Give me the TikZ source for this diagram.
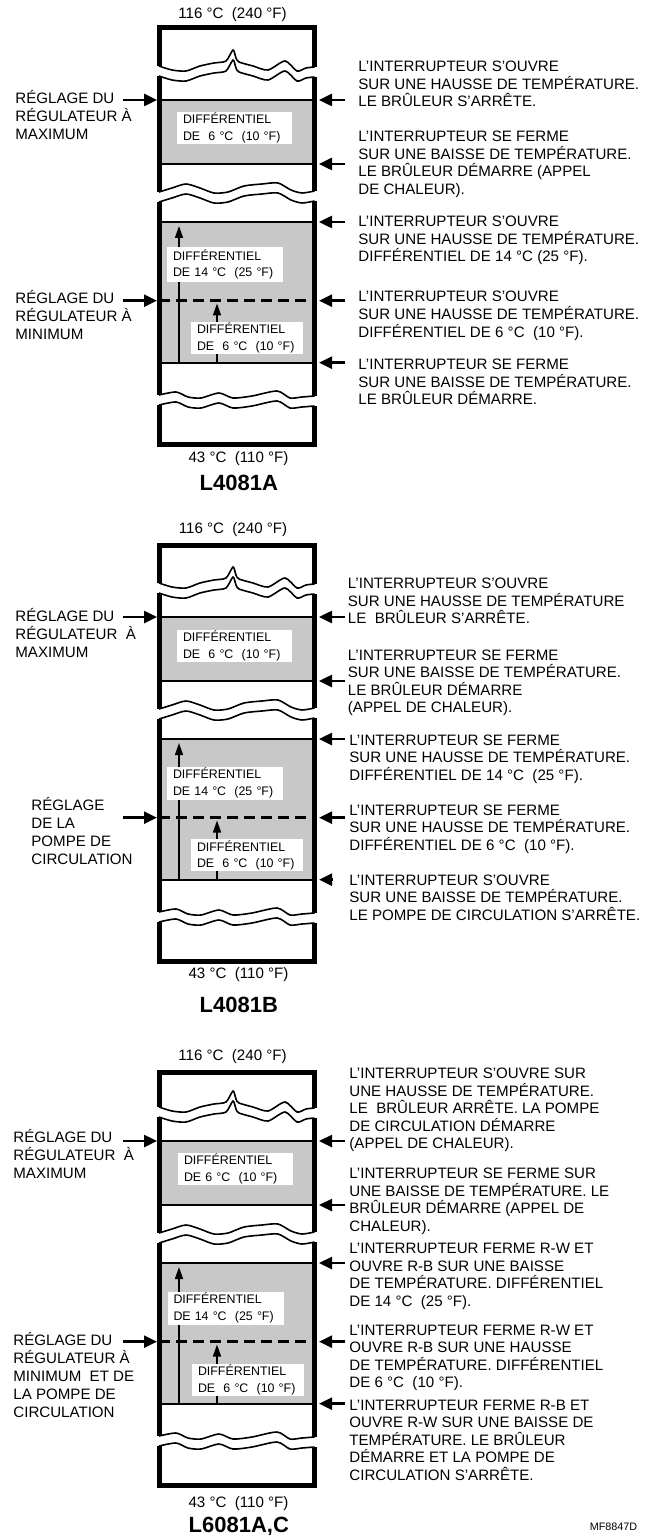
\documentclass[tikz,border=0pt]{standalone}
\usepackage{fontspec}
\setmainfont{Liberation Sans}
\usetikzlibrary{arrows.meta}

\definecolor{bandgray}{RGB}{200,200,200}

\begin{document}
\begin{tikzpicture}[x=0.5pt,y=-0.5pt,
    frame/.style={line width=2.5pt},
    brk/.style={line width=0.8pt},
    level/.style={line width=1pt},
    dashlevel/.style={line width=1.3pt,dash pattern=on 5.5pt off 3pt},
    setarrow/.style={line width=1.25pt,-{Triangle[length=6.5pt,width=6pt]}},
    diffarrow/.style={line width=0.8pt,-{Triangle[length=6pt,width=4pt]}},
    diffbox/.style={fill=white,inner xsep=3pt,inner ysep=0pt,align=left,font=\fontsize{6.2}{8.25}\selectfont},
    note/.style={anchor=base west,inner sep=0pt,align=left,font=\fontsize{7.55}{8.75}\selectfont},
    setting/.style={anchor=base west,inner sep=0pt,align=left,font=\fontsize{7.55}{9}\selectfont},
    temp/.style={inner sep=0pt,font=\fontsize{7.55}{9}\selectfont},
    model/.style={inner sep=0pt,font=\fontsize{11}{13}\selectfont\bfseries}]
  \useasboundingbox (0,0) rectangle (662,1535);

  % L4081A
  \begin{scope}
    \fill[bandgray] (159,100) rectangle (314.5,164);
    \fill[bandgray] (159,222) rectangle (314.5,362.7);
    \draw[level] (159,100) -- (314.5,100);
    \draw[level] (159,164) -- (314.5,164);
    \draw[level] (159,222) -- (314.5,222);
    \draw[level] (159,362.7) -- (314.5,362.7);
    \draw[dashlevel] (159,300.7) -- (314.5,300.7);
    \draw[diffarrow] (179,362.7) -- (179,226);
    \draw[diffarrow] (217,362.7) -- (217,303.5);
    \node[diffbox,text width=51.5pt,minimum height=16pt] (p1d6a) at (234.5,128) {DIFFÉRENTIEL\\DE~ 6 °C~ (10 °F)};
    \node[diffbox,text width=52pt,minimum height=17.5pt] (p1d14) at (225,264.5) {DIFFÉRENTIEL\\DE 14 °C~ (25 °F)};
    \node[diffbox,text width=50pt,minimum height=16pt] (p1d6b) at (247,338) {DIFFÉRENTIEL\\DE~ 6 °C~ (10 °F)};
    \draw[frame] (159,66) |- (314.5,28) -- (314.5,67);
    \draw[frame] (159,76) -- (159,192);
    \draw[frame] (314.5,77) -- (314.5,191);
    \draw[frame] (159,202) -- (159,395);
    \draw[frame] (314.5,201) -- (314.5,396);
    \draw[frame] (159,405) |- (314.5,444) -- (314.5,406);
    \draw[brk] plot[smooth,tension=.45] coordinates {(159,66) (172,70) (186,71) (200,66) (214,63) (226,61) (233,50) (236,58) (239,62) (253,66) (268,70) (285,61) (297,71) (306,68) (314.5,67)};
    \draw[brk,shift={(0,10)}] plot[smooth,tension=.45] coordinates {(159,66) (172,70) (186,71) (200,66) (214,63) (226,61) (233,50) (236,58) (239,62) (253,66) (268,70) (285,61) (297,71) (306,68) (314.5,67)};
    \draw[brk] plot[smooth,tension=.45] coordinates {(159,192) (172,188) (186,184) (200,188) (214,193) (228,192) (244,186) (262,184) (278,183) (291,190) (302,193) (314.5,191)};
    \draw[brk,shift={(0,10)}] plot[smooth,tension=.45] coordinates {(159,192) (172,188) (186,184) (200,188) (214,193) (228,192) (244,186) (262,184) (278,183) (291,190) (302,193) (314.5,191)};
    \draw[brk] plot[smooth,tension=.45] coordinates {(159,395) (176,392) (188,397) (201,398) (219,393) (233,398) (252,396) (277,391) (290,398) (302,397) (314.5,396)};
    \draw[brk,shift={(0,10)}] plot[smooth,tension=.45] coordinates {(159,395) (176,392) (188,397) (201,398) (219,393) (233,398) (252,396) (277,391) (290,398) (302,397) (314.5,396)};
    \node[temp] (p1top) at (232.5,15) {116 °C~ (240 °F)};
    \node[temp] (p1bot) at (238.5,459) {43 °C~ (110 °F)};
    \node[model] (p1name) at (238.8,483) {L4081A};
    \node[setting] (p1max) at (15,139.4) {RÉGLAGE DU\\RÉGULATEUR À\\MAXIMUM};
    \node[setting] (p1min) at (15,339.7) {RÉGLAGE DU\\RÉGULATEUR À\\MINIMUM};
    \coordinate (p1maxS) at (123,100); \coordinate (p1maxT) at (157,100);
    \coordinate (p1minS) at (123,300.7); \coordinate (p1minT) at (157,300.7);
    \draw[setarrow] (p1maxS) -- (p1maxT);
    \draw[setarrow] (p1minS) -- (p1minT);
    \node[note] (p1r1) at (358,107) {L'INTERRUPTEUR S'OUVRE\\SUR UNE HAUSSE DE TEMPÉRATURE.\\LE BRÛLEUR S'ARRÊTE.};
    \node[note] (p1r2) at (358,194.5) {L'INTERRUPTEUR SE FERME\\SUR UNE BAISSE DE TEMPÉRATURE.\\LE BRÛLEUR DÉMARRE (APPEL\\DE CHALEUR).};
    \node[note] (p1r3) at (358,262) {L'INTERRUPTEUR S'OUVRE\\SUR UNE HAUSSE DE TEMPÉRATURE.\\DIFFÉRENTIEL DE 14 °C (25 °F).};
    \node[note] (p1r4) at (358,337) {L'INTERRUPTEUR S'OUVRE\\SUR UNE HAUSSE DE TEMPÉRATURE.\\DIFFÉRENTIEL DE 6 °C~ (10 °F).};
    \node[note] (p1r5) at (358,404.5) {L'INTERRUPTEUR SE FERME\\SUR UNE BAISSE DE TEMPÉRATURE.\\LE BRÛLEUR DÉMARRE.};
    \coordinate (p1e1) at (345,100); \coordinate (p1t1) at (319,100);
    \coordinate (p1e2) at (345,164); \coordinate (p1t2) at (319,164);
    \coordinate (p1e3) at (345,222); \coordinate (p1t3) at (319,222);
    \coordinate (p1e4) at (345,300.7); \coordinate (p1t4) at (319,300.7);
    \coordinate (p1e5) at (345,362.7); \coordinate (p1t5) at (319,362.7);
    \draw[setarrow] (p1e1) -- (p1t1);
    \draw[setarrow] (p1e2) -- (p1t2);
    \draw[setarrow] (p1e3) -- (p1t3);
    \draw[setarrow] (p1e4) -- (p1t4);
    \draw[setarrow] (p1e5) -- (p1t5);
  \end{scope}

  % L4081B
  \begin{scope}[shift={(0,517)}]
    \fill[bandgray] (159,100) rectangle (314.5,164);
    \fill[bandgray] (159,222) rectangle (314.5,362.7);
    \draw[level] (159,100) -- (314.5,100);
    \draw[level] (159,164) -- (314.5,164);
    \draw[level] (159,222) -- (314.5,222);
    \draw[level] (159,362.7) -- (314.5,362.7);
    \draw[dashlevel] (159,300.7) -- (314.5,300.7);
    \draw[diffarrow] (179,362.7) -- (179,226);
    \draw[diffarrow] (217,362.7) -- (217,303.5);
    \node[diffbox,text width=51.5pt,minimum height=16pt] (p2d6a) at (234.5,129) {DIFFÉRENTIEL\\DE~ 6 °C~ (10 °F)};
    \node[diffbox,text width=52pt,minimum height=16.5pt] (p2d14) at (225,266) {DIFFÉRENTIEL\\DE 14 °C~ (25 °F)};
    \node[diffbox,text width=50pt,minimum height=16pt] (p2d6b) at (247,338.3) {DIFFÉRENTIEL\\DE~ 6 °C~ (10 °F)};
    \draw[frame] (159,66) |- (314.5,28) -- (314.5,67);
    \draw[frame] (159,76) -- (159,192);
    \draw[frame] (314.5,77) -- (314.5,191);
    \draw[frame] (159,202) -- (159,395);
    \draw[frame] (314.5,201) -- (314.5,396);
    \draw[frame] (159,405) |- (314.5,444) -- (314.5,406);
    \draw[brk] plot[smooth,tension=.45] coordinates {(159,66) (172,70) (186,71) (200,66) (214,63) (226,61) (233,50) (236,58) (239,62) (253,66) (268,70) (285,61) (297,71) (306,68) (314.5,67)};
    \draw[brk,shift={(0,10)}] plot[smooth,tension=.45] coordinates {(159,66) (172,70) (186,71) (200,66) (214,63) (226,61) (233,50) (236,58) (239,62) (253,66) (268,70) (285,61) (297,71) (306,68) (314.5,67)};
    \draw[brk] plot[smooth,tension=.45] coordinates {(159,192) (172,188) (186,184) (200,188) (214,193) (228,192) (244,186) (262,184) (278,183) (291,190) (302,193) (314.5,191)};
    \draw[brk,shift={(0,10)}] plot[smooth,tension=.45] coordinates {(159,192) (172,188) (186,184) (200,188) (214,193) (228,192) (244,186) (262,184) (278,183) (291,190) (302,193) (314.5,191)};
    \draw[brk] plot[smooth,tension=.45] coordinates {(159,395) (176,392) (188,397) (201,398) (219,393) (233,398) (252,396) (277,391) (290,398) (302,397) (314.5,396)};
    \draw[brk,shift={(0,10)}] plot[smooth,tension=.45] coordinates {(159,395) (176,392) (188,397) (201,398) (219,393) (233,398) (252,396) (277,391) (290,398) (302,397) (314.5,396)};
    \node[temp] (p2top) at (233,13) {116 °C~ (240 °F)};
    \node[temp] (p2bot) at (238.5,458) {43 °C~ (110 °F)};
    \node[model] (p2name) at (238.8,488) {L4081B};
    \node[setting] (p2max) at (15,140.4) {RÉGLAGE DU\\RÉGULATEUR~ À\\MAXIMUM};
    \node[setting] (p2pump) at (31,347.4) {RÉGLAGE\\DE LA\\POMPE DE\\CIRCULATION};
    \coordinate (p2maxS) at (123,100); \coordinate (p2maxT) at (157,100);
    \coordinate (p2pumpS) at (123,300.7); \coordinate (p2pumpT) at (157,300.7);
    \draw[setarrow] (p2maxS) -- (p2maxT);
    \draw[setarrow] (p2pumpS) -- (p2pumpT);
    \node[note] (p2r1) at (347.5,106.7) {L'INTERRUPTEUR S'OUVRE\\SUR UNE HAUSSE DE TEMPÉRATURE\\LE~ BRÛLEUR S'ARRÊTE.};
    \node[note] (p2r2) at (347.5,195.9) {L'INTERRUPTEUR SE FERME\\SUR UNE BAISSE DE TEMPÉRATURE.\\LE BRÛLEUR DÉMARRE\\(APPEL DE CHALEUR).};
    \node[note] (p2r3) at (349,263.4) {L'INTERRUPTEUR SE FERME\\SUR UNE HAUSSE DE TEMPÉRATURE.\\DIFFÉRENTIEL DE 14 °C~ (25 °F).};
    \node[note] (p2r4) at (349,333.4) {L'INTERRUPTEUR SE FERME\\SUR UNE HAUSSE DE TEMPÉRATURE.\\DIFFÉRENTIEL DE 6 °C~ (10 °F).};
    \node[note] (p2r5) at (349,403.4) {L'INTERRUPTEUR S'OUVRE\\SUR UNE BAISSE DE TEMPÉRATURE.\\LE POMPE DE CIRCULATION S'ARRÊTE.};
    \coordinate (p2e1) at (345,100); \coordinate (p2t1) at (319,100);
    \coordinate (p2e2) at (345,164); \coordinate (p2t2) at (319,164);
    \coordinate (p2e3) at (345,222); \coordinate (p2t3) at (319,222);
    \coordinate (p2e4) at (345,300.7); \coordinate (p2t4) at (319,300.7);
    \coordinate (p2e5) at (332.5,362.7); \coordinate (p2t5) at (319,362.7);
    \draw[setarrow] (p2e1) -- (p2t1);
    \draw[setarrow] (p2e2) -- (p2t2);
    \draw[setarrow] (p2e3) -- (p2t3);
    \draw[setarrow] (p2e4) -- (p2t4);
    \draw[setarrow] (p2e5) -- (p2t5);
  \end{scope}

  % L6081A,C
  \begin{scope}[shift={(0,1041)}]
    \fill[bandgray] (159,100) rectangle (314.5,164);
    \fill[bandgray] (159,222) rectangle (314.5,362.7);
    \draw[level] (159,100) -- (314.5,100);
    \draw[level] (159,164) -- (314.5,164);
    \draw[level] (159,222) -- (314.5,222);
    \draw[level] (159,362.7) -- (314.5,362.7);
    \draw[dashlevel] (159,300.7) -- (314.5,300.7);
    \draw[diffarrow] (179,362.7) -- (179,226);
    \draw[diffarrow] (217,362.7) -- (217,303.5);
    \node[diffbox,text width=51.5pt,minimum height=16pt] (p3d6a) at (235.5,128) {DIFFÉRENTIEL\\DE 6 °C~ (10 °F)};
    \node[diffbox,text width=52pt,minimum height=16.5pt] (p3d14) at (225.5,267) {DIFFÉRENTIEL\\DE 14 °C~ (25 °F)};
    \node[diffbox,text width=50pt,minimum height=16pt] (p3d6b) at (248,339) {DIFFÉRENTIEL\\DE~ 6 °C~ (10 °F)};
    \draw[frame] (159,66) |- (314.5,31) -- (314.5,67);
    \draw[frame] (159,76) -- (159,192);
    \draw[frame] (314.5,77) -- (314.5,191);
    \draw[frame] (159,202) -- (159,395);
    \draw[frame] (314.5,201) -- (314.5,396);
    \draw[frame] (159,405) |- (314.5,444) -- (314.5,406);
    \draw[brk] plot[smooth,tension=.45] coordinates {(159,66) (172,70) (186,71) (200,66) (214,63) (226,61) (233,50) (236,58) (239,62) (253,66) (268,70) (285,61) (297,71) (306,68) (314.5,67)};
    \draw[brk,shift={(0,10)}] plot[smooth,tension=.45] coordinates {(159,66) (172,70) (186,71) (200,66) (214,63) (226,61) (233,50) (236,58) (239,62) (253,66) (268,70) (285,61) (297,71) (306,68) (314.5,67)};
    \draw[brk] plot[smooth,tension=.45] coordinates {(159,192) (172,188) (186,184) (200,188) (214,193) (228,192) (244,186) (262,184) (278,183) (291,190) (302,193) (314.5,191)};
    \draw[brk,shift={(0,10)}] plot[smooth,tension=.45] coordinates {(159,192) (172,188) (186,184) (200,188) (214,193) (228,192) (244,186) (262,184) (278,183) (291,190) (302,193) (314.5,191)};
    \draw[brk] plot[smooth,tension=.45] coordinates {(159,395) (176,392) (188,397) (201,398) (219,393) (233,398) (252,396) (277,391) (290,398) (302,397) (314.5,396)};
    \draw[brk,shift={(0,10)}] plot[smooth,tension=.45] coordinates {(159,395) (176,392) (188,397) (201,398) (219,393) (233,398) (252,396) (277,391) (290,398) (302,397) (314.5,396)};
    \node[temp] (p3top) at (232.5,15.7) {116 °C~ (240 °F)};
    \node[temp] (p3bot) at (238.5,463) {43 °C~ (110 °F)};
    \node[model] (p3name) at (238.8,485.7) {L6081A,C};
    \node[setting] (p3max) at (13,137) {RÉGLAGE DU\\RÉGULATEUR~ À\\MAXIMUM};
    \node[setting] (p3min) at (13,376.4) {RÉGLAGE DU\\RÉGULATEUR À\\MINIMUM~ ET DE\\LA POMPE DE\\CIRCULATION};
    \coordinate (p3maxS) at (123,100); \coordinate (p3maxT) at (157,100);
    \coordinate (p3minS) at (123,300.7); \coordinate (p3minT) at (157,300.7);
    \draw[setarrow] (p3maxS) -- (p3maxT);
    \draw[setarrow] (p3minS) -- (p3minT);
    \node[note] (p3r1) at (349,107.7) {L'INTERRUPTEUR S'OUVRE SUR\\UNE HAUSSE DE TEMPÉRATURE.\\LE~ BRÛLEUR ARRÊTE. LA POMPE\\DE CIRCULATION DÉMARRE\\(APPEL DE CHALEUR).};
    \node[note] (p3r2) at (349,190.2) {L'INTERRUPTEUR SE FERME SUR\\UNE BAISSE DE TEMPÉRATURE. LE\\BRÛLEUR DÉMARRE (APPEL DE\\CHALEUR).};
    \node[note] (p3r3) at (349,265.2) {L'INTERRUPTEUR FERME R-W ET\\OUVRE R-B SUR UNE BAISSE\\DE TEMPÉRATURE. DIFFÉRENTIEL\\DE 14 °C~ (25 °F).};
    \node[note] (p3r4) at (349,346.9) {L'INTERRUPTEUR FERME R-W ET\\OUVRE R-B SUR UNE HAUSSE\\DE TEMPÉRATURE. DIFFÉRENTIEL\\DE 6 °C~ (10 °F).};
    \node[note] (p3r5) at (349,439.4) {L'INTERRUPTEUR FERME R-B ET\\OUVRE R-W SUR UNE BAISSE DE\\TEMPÉRATURE. LE BRÛLEUR\\DÉMARRE ET LA POMPE DE\\CIRCULATION S'ARRÊTE.};
    \coordinate (p3e1) at (345,100); \coordinate (p3t1) at (319,100);
    \coordinate (p3e2) at (345,164); \coordinate (p3t2) at (319,164);
    \coordinate (p3e3) at (345,222); \coordinate (p3t3) at (319,222);
    \coordinate (p3e4) at (345,300.7); \coordinate (p3t4) at (319,300.7);
    \coordinate (p3e5) at (345,362.7); \coordinate (p3t5) at (319,362.7);
    \draw[setarrow] (p3e1) -- (p3t1);
    \draw[setarrow] (p3e2) -- (p3t2);
    \draw[setarrow] (p3e3) -- (p3t3);
    \draw[setarrow] (p3e4) -- (p3t4);
    \draw[setarrow] (p3e5) -- (p3t5);
  \end{scope}

  \node[inner sep=0pt,font=\fontsize{5.4}{6}\selectfont] (code) at (613.5,1527) {MF8847D};
\end{tikzpicture}
\end{document}
